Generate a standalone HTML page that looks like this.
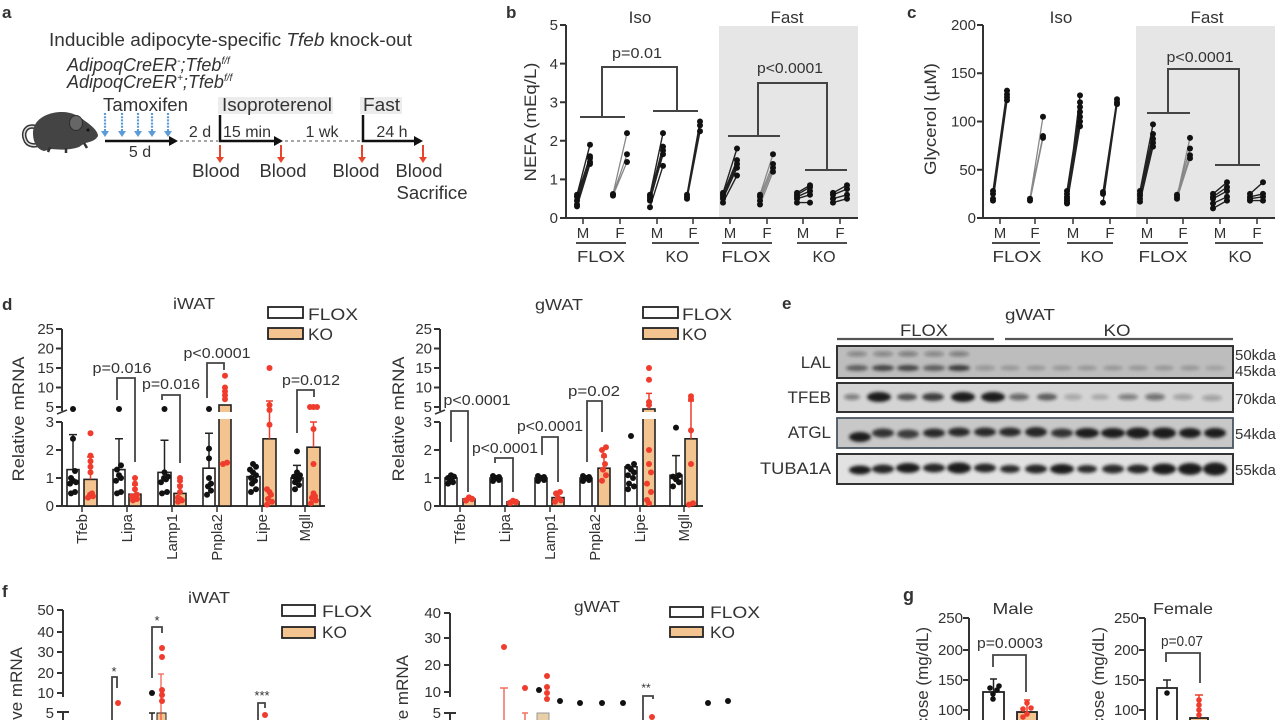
<!DOCTYPE html>
<html><head><meta charset="utf-8"><style>
html,body{margin:0;padding:0;background:#fff;width:1280px;height:720px;overflow:hidden;}
svg{display:block;}
text{font-family:"Liberation Sans",Arial,sans-serif;fill:#333;}
</style></head><body>
<svg width="1280" height="720" viewBox="0 0 1280 720" xmlns="http://www.w3.org/2000/svg" overflow="hidden">
<defs>
<filter id="bl" x="-50%" y="-100%" width="200%" height="300%"><feGaussianBlur stdDeviation="1.6"/></filter>
</defs>

<!-- ================= PANEL A ================= -->
<text x="2" y="18" font-size="17" font-weight="bold">a</text>
<text x="49" y="46" font-size="18" textLength="363" lengthAdjust="spacingAndGlyphs">Inducible adipocyte-specific <tspan font-style="italic">Tfeb</tspan> knock-out</text>
<text x="67" y="71" font-size="18" font-style="italic">AdipoqCreER<tspan font-size="10" dy="-7">-</tspan><tspan dy="7">;Tfeb</tspan><tspan font-size="10" dy="-7">f/f</tspan></text>
<text x="67" y="88" font-size="18" font-style="italic">AdipoqCreER<tspan font-size="10" dy="-7">+</tspan><tspan dy="7">;Tfeb</tspan><tspan font-size="10" dy="-7">f/f</tspan></text>

<rect x="218" y="97" width="115" height="17" fill="#ececec"/>
<rect x="360" y="97" width="42" height="17" fill="#ececec"/>
<text x="103" y="111" font-size="18" textLength="85" lengthAdjust="spacingAndGlyphs">Tamoxifen</text>
<text x="222" y="111" font-size="18" textLength="110" lengthAdjust="spacingAndGlyphs">Isoproterenol</text>
<text x="363" y="111" font-size="18" textLength="37" lengthAdjust="spacingAndGlyphs">Fast</text>

<!-- mouse -->
<g>
<path d="M38,128 C27,123 22,132 25,139 C27,146 35,147 43,143" stroke="#333" stroke-width="4.5" fill="none"/>
<path d="M38,128 C27,123 22,132 25,139 C27,146 35,147 43,143" stroke="#ddd" stroke-width="1.5" fill="none"/>
<path d="M33,133 C33,119 48,112 62,112 C72,112 79,116 85,121 C91,125 98,131 98,136 C96,140 91,142 85,143 L79,147 C71,150 60,150 52,149 L44,151 C36,149 33,141 33,133 Z" fill="#444"/>
<ellipse cx="76" cy="123" rx="6.5" ry="7.5" fill="#666" stroke="#2e2e2e" stroke-width="1"/>
<circle cx="88" cy="130" r="1.5" fill="#111"/>
<path d="M50,147 L48,152 M66,148 L66,153 M84,143 L87,148" stroke="#333" stroke-width="2.5"/>
</g>

<!-- blue arrows -->
<g stroke="#5a9bd8" stroke-width="2.2" stroke-dasharray="2,1.2" fill="none">
<path d="M105,113V132 M122,113V132 M138,113V132 M152,113V132 M168,113V132"/>
</g>
<g fill="#5a9bd8">
<polygon points="101,131 109,131 105,137"/>
<polygon points="118,131 126,131 122,137"/>
<polygon points="134,131 142,131 138,137"/>
<polygon points="148,131 156,131 152,137"/>
<polygon points="164,131 172,131 168,137"/>
</g>

<!-- timeline -->
<g stroke="#111" stroke-width="2.5" fill="none">
<path d="M105,141H172"/>
<path d="M220,115V141H277"/>
<path d="M363,115V141H417"/>
</g>
<g fill="#111">
<polygon points="169,136 178,141 169,146"/>
<polygon points="274,136 283,141 274,146"/>
<polygon points="414,136 423,141 414,146"/>
</g>
<g stroke="#999" stroke-width="1.8" stroke-dasharray="3,3">
<path d="M180,141H218"/>
<path d="M285,141H361"/>
</g>
<text x="200" y="137" font-size="16" text-anchor="middle">2 d</text>
<text x="247" y="137" font-size="16" text-anchor="middle">15 min</text>
<text x="322" y="137" font-size="16" text-anchor="middle">1 wk</text>
<text x="392" y="137" font-size="16" text-anchor="middle">24 h</text>
<text x="140" y="157" font-size="16" text-anchor="middle">5 d</text>

<!-- red arrows -->
<g stroke="#e8452e" stroke-width="2">
<path d="M220,145V158 M281,145V158 M362,145V158 M423,145V158"/>
</g>
<g fill="#e8452e">
<polygon points="216,157 224,157 220,163"/>
<polygon points="277,157 285,157 281,163"/>
<polygon points="358,157 366,157 362,163"/>
<polygon points="419,157 427,157 423,163"/>
</g>
<text x="216" y="177" font-size="18" text-anchor="middle" textLength="48" lengthAdjust="spacingAndGlyphs">Blood</text>
<text x="283" y="177" font-size="18" text-anchor="middle" textLength="47" lengthAdjust="spacingAndGlyphs">Blood</text>
<text x="356" y="177" font-size="18" text-anchor="middle" textLength="47" lengthAdjust="spacingAndGlyphs">Blood</text>
<text x="419" y="177" font-size="18" text-anchor="middle" textLength="47" lengthAdjust="spacingAndGlyphs">Blood</text>
<text x="432" y="199" font-size="18" text-anchor="middle" textLength="71" lengthAdjust="spacingAndGlyphs">Sacrifice</text>

<!-- ================= PANEL B ================= -->
<text x="506" y="18" font-size="17" font-weight="bold">b</text>
<rect x="719" y="26" width="139" height="192" fill="#e6e6e6"/>
<text x="640" y="23" font-size="17" text-anchor="middle">Iso</text>
<text x="787" y="23" font-size="17" text-anchor="middle">Fast</text>
<text transform="translate(536,122) rotate(-90)" font-size="17" text-anchor="middle" textLength="119" lengthAdjust="spacingAndGlyphs">NEFA (mEq/L)</text>
<path d="M566,25V218H858" stroke="#333" stroke-width="2" fill="none"/>
<path d="M560,25H566M560,63.6H566M560,102.2H566M560,140.8H566M560,179.4H566M560,218H566" stroke="#333" stroke-width="2"/>
<g font-size="15" text-anchor="end">
<text x="558" y="30">5</text><text x="558" y="69">4</text><text x="558" y="107.5">3</text>
<text x="558" y="146">2</text><text x="558" y="184.5">1</text><text x="558" y="223">0</text>
</g>
<path d="M583,218V224M620,218V224M657,218V224M693,218V224M730,218V224M767,218V224M803,218V224M840,218V224" stroke="#333" stroke-width="1.5"/>
<g font-size="15" text-anchor="middle">
<text x="583" y="238">M</text><text x="620" y="238">F</text><text x="657" y="238">M</text><text x="693" y="238">F</text>
<text x="730" y="238">M</text><text x="767" y="238">F</text><text x="803" y="238">M</text><text x="840" y="238">F</text>
</g>
<path d="M576,243H626M652,243H699M722,243H772M797,243H847" stroke="#333" stroke-width="1.8"/>
<g font-size="16" text-anchor="middle">
<text x="601" y="262" textLength="48" lengthAdjust="spacingAndGlyphs">FLOX</text>
<text x="677" y="262">KO</text>
<text x="746" y="262" textLength="49" lengthAdjust="spacingAndGlyphs">FLOX</text>
<text x="824" y="262">KO</text>
</g>
<path d="M580,117H625 M602,117V67H677V111 M653,111H698" stroke="#444" stroke-width="2" fill="none"/>
<text x="637" y="58" font-size="15" text-anchor="middle" textLength="50" lengthAdjust="spacingAndGlyphs">p=0.01</text>
<path d="M728,136H780 M758,136V83H827V170 M805,170H847" stroke="#444" stroke-width="2" fill="none"/>
<text x="790" y="73" font-size="15" text-anchor="middle" textLength="66" lengthAdjust="spacingAndGlyphs">p&lt;0.0001</text>

<g stroke="#222" stroke-width="1.4" fill="none">
<path d="M577,206.4L590,164M577,204.5L590,162M577,200.6L590,158.2M577,196.8L590,156.2M577,194.8L590,144.7"/>
<path d="M650,207.2L663,165.9M650,200.6L663,154.3M650,198.7L663,150.5M650,196.8L663,146.6M650,194.8L663,133.1"/>
<path d="M687,198.7L700,131.2M687,196.8L700,125.4M687,194.8L700,121.5"/>
<path d="M723,202.6L737,175.5M723,198.7L737,167.8M723,196.8L737,164M723,194.8L737,160.1M723,192.9L737,148.5"/>
<path d="M797,202.6L810,202.6M797,198.7L810,194.8M797,196.8L810,191M797,194.8L810,187.1M797,192.9L810,185.2"/>
<path d="M833,202.6L847,198.7M833,198.7L847,194.8M833,194.8L847,189M833,192.9L847,185.2"/>
</g>
<g stroke="#888" stroke-width="1.3" fill="none">
<path d="M613,195.6L627,162M613,194.8L627,154.3M613,194L627,133.1"/>
<path d="M760,204.5L773,171.7M760,200.6L773,167.8M760,196.8L773,164M760,194.8L773,154.3"/>
</g>
<g fill="#111">
<circle cx="577" cy="206.4" r="3"/><circle cx="577" cy="204.5" r="3"/><circle cx="577" cy="200.6" r="3"/><circle cx="577" cy="196.8" r="3"/><circle cx="577" cy="194.8" r="3"/>
<circle cx="590" cy="164" r="3"/><circle cx="590" cy="162" r="3"/><circle cx="590" cy="158.2" r="3"/><circle cx="590" cy="156.2" r="3"/><circle cx="590" cy="144.7" r="3"/>
<circle cx="613" cy="195.6" r="3"/><circle cx="613" cy="194.8" r="3"/><circle cx="613" cy="194" r="3"/>
<circle cx="627" cy="162" r="3"/><circle cx="627" cy="154.3" r="3"/><circle cx="627" cy="133.1" r="3"/>
<circle cx="650" cy="207.2" r="3"/><circle cx="650" cy="200.6" r="3"/><circle cx="650" cy="198.7" r="3"/><circle cx="650" cy="196.8" r="3"/><circle cx="650" cy="194.8" r="3"/>
<circle cx="663" cy="165.9" r="3"/><circle cx="663" cy="154.3" r="3"/><circle cx="663" cy="150.5" r="3"/><circle cx="663" cy="146.6" r="3"/><circle cx="663" cy="133.1" r="3"/>
<circle cx="687" cy="198.7" r="3"/><circle cx="687" cy="196.8" r="3"/><circle cx="687" cy="194.8" r="3"/>
<circle cx="700" cy="131.2" r="3"/><circle cx="700" cy="125.4" r="3"/><circle cx="700" cy="121.5" r="3"/>
<circle cx="723" cy="202.6" r="3"/><circle cx="723" cy="198.7" r="3"/><circle cx="723" cy="196.8" r="3"/><circle cx="723" cy="194.8" r="3"/><circle cx="723" cy="192.9" r="3"/>
<circle cx="737" cy="175.5" r="3"/><circle cx="737" cy="167.8" r="3"/><circle cx="737" cy="164" r="3"/><circle cx="737" cy="160.1" r="3"/><circle cx="737" cy="148.5" r="3"/>
<circle cx="760" cy="204.5" r="3"/><circle cx="760" cy="200.6" r="3"/><circle cx="760" cy="196.8" r="3"/><circle cx="760" cy="194.8" r="3"/>
<circle cx="773" cy="171.7" r="3"/><circle cx="773" cy="167.8" r="3"/><circle cx="773" cy="164" r="3"/><circle cx="773" cy="154.3" r="3"/>
<circle cx="797" cy="202.6" r="3"/><circle cx="797" cy="198.7" r="3"/><circle cx="797" cy="196.8" r="3"/><circle cx="797" cy="194.8" r="3"/><circle cx="797" cy="192.9" r="3"/>
<circle cx="810" cy="202.6" r="3"/><circle cx="810" cy="194.8" r="3"/><circle cx="810" cy="191" r="3"/><circle cx="810" cy="187.1" r="3"/><circle cx="810" cy="185.2" r="3"/>
<circle cx="833" cy="202.6" r="3"/><circle cx="833" cy="198.7" r="3"/><circle cx="833" cy="194.8" r="3"/><circle cx="833" cy="192.9" r="3"/>
<circle cx="847" cy="198.7" r="3"/><circle cx="847" cy="194.8" r="3"/><circle cx="847" cy="189" r="3"/><circle cx="847" cy="185.2" r="3"/>
</g>

<!-- ================= PANEL C ================= -->
<text x="907" y="18" font-size="17" font-weight="bold">c</text>
<rect x="1136" y="26" width="139" height="192" fill="#e6e6e6"/>
<text x="1061" y="23" font-size="17" text-anchor="middle">Iso</text>
<text x="1207" y="23" font-size="17" text-anchor="middle">Fast</text>
<text transform="translate(936,119) rotate(-90)" font-size="17" text-anchor="middle" textLength="112" lengthAdjust="spacingAndGlyphs">Glycerol (µM)</text>
<path d="M983,25V218H1275" stroke="#333" stroke-width="2" fill="none"/>
<path d="M977,25H983M977,73.3H983M977,121.5H983M977,169.8H983M977,218H983" stroke="#333" stroke-width="2"/>
<g font-size="15" text-anchor="end">
<text x="976" y="30">200</text><text x="976" y="78">150</text><text x="976" y="126.5">100</text>
<text x="976" y="175">50</text><text x="976" y="223">0</text>
</g>
<path d="M1000,218V224M1035,218V224M1073,218V224M1110,218V224M1147,218V224M1183,218V224M1220,218V224M1257,218V224" stroke="#333" stroke-width="1.5"/>
<g font-size="15" text-anchor="middle">
<text x="1000" y="238">M</text><text x="1035" y="238">F</text><text x="1073" y="238">M</text><text x="1110" y="238">F</text>
<text x="1147" y="238">M</text><text x="1183" y="238">F</text><text x="1220" y="238">M</text><text x="1257" y="238">F</text>
</g>
<path d="M992,243H1040M1067,243H1113M1140,243H1188M1215,243H1263" stroke="#333" stroke-width="1.8"/>
<g font-size="16" text-anchor="middle">
<text x="1017" y="262" textLength="49" lengthAdjust="spacingAndGlyphs">FLOX</text>
<text x="1092" y="262">KO</text>
<text x="1163" y="262" textLength="49" lengthAdjust="spacingAndGlyphs">FLOX</text>
<text x="1240" y="262">KO</text>
</g>
<path d="M1147,113H1190 M1168,113V69H1239V165 M1215,165H1260" stroke="#444" stroke-width="2" fill="none"/>
<text x="1200" y="62" font-size="15" text-anchor="middle" textLength="67" lengthAdjust="spacingAndGlyphs">p&lt;0.0001</text>

<g stroke="#222" stroke-width="1.4" fill="none">
<path d="M993,200.6L1007,100.3M993,198.7L1007,97.4M993,193.9L1007,94.5M993,191L1007,90.6"/>
<path d="M1067,203.5L1080,126.3M1067,200.6L1080,121.5M1067,196.8L1080,116.7M1067,193.9L1080,111.9M1067,191L1080,107M1067,198.7L1080,102.2M1067,202.6L1080,95.4"/>
<path d="M1103,202.6L1117,104.1M1103,193.9L1117,102.2M1103,192L1117,99.3"/>
<path d="M1140,201.6L1153,146.6M1140,198.7L1153,142.7M1140,195.8L1153,138.9M1140,193.9L1153,134M1140,191L1153,124.4"/>
<path d="M1213,208.4L1227,200.6M1213,203.5L1227,196.8M1213,198.7L1227,191M1213,196.8L1227,187.1M1213,193.9L1227,182.3"/>
<path d="M1250,200.6L1263,200.6M1250,198.7L1263,196.8M1250,196.8L1263,193.9M1250,193.9L1263,182.3"/>
</g>
<g stroke="#888" stroke-width="1.3" fill="none">
<path d="M1030,200.6L1043,137.9M1030,198.7L1043,136M1030,198.7L1043,116.7"/>
<path d="M1177,198.7L1190,158.2M1177,196.8L1190,155.3M1177,194.8L1190,148.5M1177,196.8L1190,137.9"/>
</g>
<g fill="#111">
<circle cx="993" cy="200.6" r="3"/><circle cx="993" cy="198.7" r="3"/><circle cx="993" cy="193.9" r="3"/><circle cx="993" cy="191" r="3"/>
<circle cx="1007" cy="100.3" r="3"/><circle cx="1007" cy="97.4" r="3"/><circle cx="1007" cy="94.5" r="3"/><circle cx="1007" cy="90.6" r="3"/>
<circle cx="1030" cy="200.6" r="3"/><circle cx="1030" cy="198.7" r="3"/>
<circle cx="1043" cy="137.9" r="3"/><circle cx="1043" cy="136" r="3"/><circle cx="1043" cy="116.7" r="3"/>
<circle cx="1067" cy="203.5" r="3"/><circle cx="1067" cy="200.6" r="3"/><circle cx="1067" cy="196.8" r="3"/><circle cx="1067" cy="193.9" r="3"/><circle cx="1067" cy="191" r="3"/><circle cx="1067" cy="198.7" r="3"/><circle cx="1067" cy="202.6" r="3"/>
<circle cx="1080" cy="126.3" r="3"/><circle cx="1080" cy="121.5" r="3"/><circle cx="1080" cy="116.7" r="3"/><circle cx="1080" cy="111.9" r="3"/><circle cx="1080" cy="107" r="3"/><circle cx="1080" cy="102.2" r="3"/><circle cx="1080" cy="95.4" r="3"/>
<circle cx="1103" cy="202.6" r="3"/><circle cx="1103" cy="193.9" r="3"/><circle cx="1103" cy="192" r="3"/>
<circle cx="1117" cy="104.1" r="3"/><circle cx="1117" cy="102.2" r="3"/><circle cx="1117" cy="99.3" r="3"/>
<circle cx="1140" cy="201.6" r="3"/><circle cx="1140" cy="198.7" r="3"/><circle cx="1140" cy="195.8" r="3"/><circle cx="1140" cy="193.9" r="3"/><circle cx="1140" cy="191" r="3"/>
<circle cx="1153" cy="146.6" r="3"/><circle cx="1153" cy="142.7" r="3"/><circle cx="1153" cy="138.9" r="3"/><circle cx="1153" cy="134" r="3"/><circle cx="1153" cy="124.4" r="3"/>
<circle cx="1177" cy="198.7" r="3"/><circle cx="1177" cy="196.8" r="3"/><circle cx="1177" cy="194.8" r="3"/>
<circle cx="1190" cy="158.2" r="3"/><circle cx="1190" cy="155.3" r="3"/><circle cx="1190" cy="148.5" r="3"/><circle cx="1190" cy="137.9" r="3"/>
<circle cx="1213" cy="208.4" r="3"/><circle cx="1213" cy="203.5" r="3"/><circle cx="1213" cy="198.7" r="3"/><circle cx="1213" cy="196.8" r="3"/><circle cx="1213" cy="193.9" r="3"/>
<circle cx="1227" cy="200.6" r="3"/><circle cx="1227" cy="196.8" r="3"/><circle cx="1227" cy="191" r="3"/><circle cx="1227" cy="187.1" r="3"/><circle cx="1227" cy="182.3" r="3"/>
<circle cx="1250" cy="200.6" r="3"/><circle cx="1250" cy="198.7" r="3"/><circle cx="1250" cy="196.8" r="3"/><circle cx="1250" cy="193.9" r="3"/>
<circle cx="1263" cy="200.6" r="3"/><circle cx="1263" cy="196.8" r="3"/><circle cx="1263" cy="193.9" r="3"/><circle cx="1263" cy="182.3" r="3"/>
</g>

<!-- ================= PANEL D (iWAT) ================= -->
<text x="2" y="310" font-size="17" font-weight="bold">d</text>
<text x="194" y="309" font-size="16" text-anchor="middle" textLength="42" lengthAdjust="spacingAndGlyphs">iWAT</text>
<rect x="268" y="307" width="35" height="11" fill="#fff" stroke="#222" stroke-width="1.8"/>
<text x="308" y="320" font-size="17" textLength="50" lengthAdjust="spacingAndGlyphs">FLOX</text>
<rect x="268" y="328" width="35" height="11" fill="#f3c48f" stroke="#222" stroke-width="1.8"/>
<text x="308" y="340" font-size="17" textLength="25" lengthAdjust="spacingAndGlyphs">KO</text>
<text transform="translate(24,419) rotate(-90)" font-size="17" text-anchor="middle" textLength="125" lengthAdjust="spacingAndGlyphs">Relative mRNA</text>
<path d="M62,329V411 M62,422V506H325" stroke="#333" stroke-width="2" fill="none"/>
<path d="M57,414L67,410" stroke="#333" stroke-width="1.5"/>
<path d="M56,329H62M56,348.5H62M56,368H62M56,387.5H62M56,407H62M56,422H62M56,450H62M56,478H62M56,506H62" stroke="#333" stroke-width="2"/>
<g font-size="15" text-anchor="end">
<text x="54" y="334">25</text><text x="54" y="353.5">20</text><text x="54" y="373">15</text><text x="54" y="392.5">10</text>
<text x="54" y="412">5</text><text x="54" y="427">3</text><text x="54" y="455">2</text><text x="54" y="483">1</text><text x="54" y="511">0</text>
</g>
<path d="M82,506V512M127,506V512M172,506V512M217,506V512M262,506V512M305,506V512" stroke="#333" stroke-width="1.5"/>
<g font-size="15" text-anchor="end">
<text transform="translate(87,514) rotate(-90)">Tfeb</text>
<text transform="translate(132,514) rotate(-90)">Lipa</text>
<text transform="translate(177,514) rotate(-90)">Lamp1</text>
<text transform="translate(222,514) rotate(-90)">Pnpla2</text>
<text transform="translate(267,514) rotate(-90)">Lipe</text>
<text transform="translate(310,514) rotate(-90)">Mgll</text>
</g>
<g stroke="#222" stroke-width="1.6">
<rect x="67" y="469.6" width="12" height="36.4" fill="#fff"/>
<rect x="84" y="479.4" width="13" height="26.6" fill="#f3c48f"/>
<rect x="113" y="469.6" width="12" height="36.4" fill="#fff"/>
<rect x="129" y="494.2" width="12" height="11.8" fill="#f3c48f"/>
<rect x="158" y="472.4" width="13" height="33.6" fill="#fff"/>
<rect x="174" y="493.4" width="12" height="12.6" fill="#f3c48f"/>
<rect x="203" y="468.2" width="12" height="37.8" fill="#fff"/>
<rect x="219" y="405" width="12" height="101" fill="#f3c48f"/>
<rect x="247" y="476.6" width="13" height="29.4" fill="#fff"/>
<rect x="263" y="438.8" width="13" height="67.2" fill="#f3c48f"/>
<rect x="291" y="478" width="12" height="28" fill="#fff"/>
<rect x="307" y="447.2" width="13" height="58.8" fill="#f3c48f"/>
</g>
<rect x="217" y="412" width="16" height="7" fill="#fff"/>
<path d="M73,469.6V434.6M69,434.6H77 M119,469.6V438.8M115,438.8H123 M164.5,472.4V440.2M160.5,440.2H168.5 M209,468.2V433.2M205,433.2H213 M297,478V465.4M293,465.4H301" stroke="#222" stroke-width="1.5" fill="none"/>
<path d="M90.5,479.4V457M87,457H94 M135,494.2V485M132,485H138 M180,493.4V485M177,485H183 M269.5,438.8V401M266,401H273 M313.5,447.2V422M310,422H317" stroke="#f03c2c" stroke-width="1.5" fill="none"/>
<g fill="#111">
<circle cx="71" cy="493.4" r="3"/><circle cx="75" cy="492" r="3"/><circle cx="70" cy="483.6" r="3"/><circle cx="76" cy="482.2" r="3"/><circle cx="73" cy="480.8" r="3"/><circle cx="71" cy="478" r="3"/><circle cx="75" cy="471" r="3"/><circle cx="73" cy="438.8" r="3"/><circle cx="73" cy="409" r="3"/>
<circle cx="117" cy="493.4" r="3"/><circle cx="121" cy="492" r="3"/><circle cx="116" cy="480.8" r="3"/><circle cx="121" cy="478" r="3"/><circle cx="119" cy="475.2" r="3"/><circle cx="117" cy="469.6" r="3"/><circle cx="121" cy="465.4" r="3"/><circle cx="119" cy="409" r="3"/>
<circle cx="162" cy="493.4" r="3"/><circle cx="167" cy="492" r="3"/><circle cx="161" cy="482.2" r="3"/><circle cx="166" cy="479.4" r="3"/><circle cx="164" cy="478" r="3"/><circle cx="168" cy="476.6" r="3"/><circle cx="164.5" cy="472.4" r="3"/><circle cx="164.5" cy="409" r="3"/>
<circle cx="207" cy="494.8" r="3"/><circle cx="211" cy="490.6" r="3"/><circle cx="208" cy="486.4" r="3"/><circle cx="211" cy="483.6" r="3"/><circle cx="209" cy="478" r="3"/><circle cx="209" cy="458.4" r="3"/><circle cx="209" cy="448.6" r="3"/><circle cx="209" cy="409" r="3"/>
<circle cx="251" cy="492" r="3"/><circle cx="256" cy="489.2" r="3"/><circle cx="252" cy="483.6" r="3"/><circle cx="255" cy="480.8" r="3"/><circle cx="251" cy="478" r="3"/><circle cx="256" cy="475.2" r="3"/><circle cx="253" cy="472.4" r="3"/><circle cx="250" cy="469.6" r="3"/><circle cx="256" cy="466.8" r="3"/><circle cx="253" cy="464" r="3"/>
<circle cx="295" cy="489.2" r="3"/><circle cx="299" cy="485" r="3"/><circle cx="295" cy="482.2" r="3"/><circle cx="299" cy="479.4" r="3"/><circle cx="297" cy="478" r="3"/><circle cx="294" cy="476.6" r="3"/><circle cx="300" cy="475.2" r="3"/><circle cx="297" cy="472.4" r="3"/><circle cx="297" cy="451.4" r="3"/>
</g>
<g fill="#f03c2c">
<circle cx="88" cy="497.6" r="3"/><circle cx="93" cy="496.2" r="3"/><circle cx="90" cy="494.8" r="3"/><circle cx="92" cy="493.4" r="3"/><circle cx="90.5" cy="472.4" r="3"/><circle cx="90.5" cy="466.8" r="3"/><circle cx="90.5" cy="461.2" r="3"/><circle cx="90.5" cy="455.6" r="3"/><circle cx="90.5" cy="433.2" r="3"/>
<circle cx="133" cy="500.4" r="3"/><circle cx="137" cy="499" r="3"/><circle cx="135" cy="497.6" r="3"/><circle cx="132" cy="496.2" r="3"/><circle cx="137" cy="494.8" r="3"/><circle cx="135" cy="489.2" r="3"/><circle cx="135" cy="483.6" r="3"/><circle cx="135" cy="478" r="3"/>
<circle cx="178" cy="501.8" r="3"/><circle cx="182" cy="500.4" r="3"/><circle cx="180" cy="499" r="3"/><circle cx="178" cy="497.6" r="3"/><circle cx="180" cy="492" r="3"/><circle cx="180" cy="486.4" r="3"/><circle cx="180" cy="480.8" r="3"/><circle cx="180" cy="478" r="3"/>
<circle cx="223" cy="464" r="3"/><circle cx="227" cy="462.6" r="3"/><circle cx="225" cy="399.2" r="3"/><circle cx="225" cy="395.3" r="3"/><circle cx="225" cy="391.4" r="3"/><circle cx="225" cy="387.5" r="3"/><circle cx="225" cy="375.8" r="3"/>
<circle cx="267" cy="504.6" r="3"/><circle cx="272" cy="501.8" r="3"/><circle cx="268" cy="499" r="3"/><circle cx="271" cy="494.8" r="3"/><circle cx="269.5" cy="492" r="3"/><circle cx="267" cy="489.2" r="3"/><circle cx="269.5" cy="424.8" r="3"/><circle cx="269.5" cy="410" r="3"/><circle cx="269.5" cy="405" r="3"/><circle cx="269.5" cy="368" r="3"/>
<circle cx="311" cy="503.2" r="3"/><circle cx="316" cy="500.4" r="3"/><circle cx="312" cy="497.6" r="3"/><circle cx="315" cy="496.2" r="3"/><circle cx="313.5" cy="493.4" r="3"/><circle cx="313.5" cy="464" r="3"/><circle cx="313.5" cy="429" r="3"/><circle cx="310" cy="407" r="3"/><circle cx="313.5" cy="407" r="3"/><circle cx="317" cy="407" r="3"/>
</g>
<path d="M117,400V378H135V462 M162,400V395H180V463 M207,398V363H224V370 M297,433V390H314V397" stroke="#444" stroke-width="1.8" fill="none"/>
<g font-size="15" text-anchor="middle">
<text x="122" y="373" textLength="59" lengthAdjust="spacingAndGlyphs">p=0.016</text>
<text x="171" y="389" textLength="58" lengthAdjust="spacingAndGlyphs">p=0.016</text>
<text x="217" y="358" textLength="67" lengthAdjust="spacingAndGlyphs">p&lt;0.0001</text>
<text x="311" y="385" textLength="58" lengthAdjust="spacingAndGlyphs">p=0.012</text>
</g>

<!-- ================= PANEL D (gWAT) ================= -->
<text x="559" y="310" font-size="16" text-anchor="middle" textLength="48" lengthAdjust="spacingAndGlyphs">gWAT</text>
<rect x="643" y="307" width="35" height="11" fill="#fff" stroke="#222" stroke-width="1.8"/>
<text x="682" y="320" font-size="17" textLength="50" lengthAdjust="spacingAndGlyphs">FLOX</text>
<rect x="643" y="328" width="35" height="11" fill="#f3c48f" stroke="#222" stroke-width="1.8"/>
<text x="682" y="340" font-size="17" textLength="25" lengthAdjust="spacingAndGlyphs">KO</text>
<text transform="translate(404,419) rotate(-90)" font-size="17" text-anchor="middle" textLength="125" lengthAdjust="spacingAndGlyphs">Relative mRNA</text>
<path d="M440,329V411 M440,422V506H703" stroke="#333" stroke-width="2" fill="none"/>
<path d="M435,414L445,410" stroke="#333" stroke-width="1.5"/>
<path d="M434,329H440M434,348.5H440M434,368H440M434,387.5H440M434,407H440M434,422H440M434,450H440M434,478H440M434,506H440" stroke="#333" stroke-width="2"/>
<g font-size="15" text-anchor="end">
<text x="432" y="334">25</text><text x="432" y="353.5">20</text><text x="432" y="373">15</text><text x="432" y="392.5">10</text>
<text x="432" y="412">5</text><text x="432" y="427">3</text><text x="432" y="455">2</text><text x="432" y="483">1</text><text x="432" y="511">0</text>
</g>
<path d="M460,506V512M505,506V512M550,506V512M595,506V512M640,506V512M684,506V512" stroke="#333" stroke-width="1.5"/>
<g font-size="15" text-anchor="end">
<text transform="translate(465,514) rotate(-90)">Tfeb</text>
<text transform="translate(510,514) rotate(-90)">Lipa</text>
<text transform="translate(555,514) rotate(-90)">Lamp1</text>
<text transform="translate(600,514) rotate(-90)">Pnpla2</text>
<text transform="translate(645,514) rotate(-90)">Lipe</text>
<text transform="translate(689,514) rotate(-90)">Mgll</text>
</g>
<g stroke="#222" stroke-width="1.6">
<rect x="445" y="478" width="12" height="28" fill="#fff"/>
<rect x="463" y="499" width="12" height="7" fill="#f3c48f"/>
<rect x="490" y="478" width="12" height="28" fill="#fff"/>
<rect x="507" y="501.8" width="12" height="4.2" fill="#f3c48f"/>
<rect x="535" y="478" width="12" height="28" fill="#fff"/>
<rect x="552" y="497.6" width="12" height="8.4" fill="#f3c48f"/>
<rect x="580" y="478" width="12" height="28" fill="#fff"/>
<rect x="598" y="468.2" width="12" height="37.8" fill="#f3c48f"/>
<rect x="625" y="466.8" width="12" height="39.2" fill="#fff"/>
<rect x="643" y="409" width="12" height="97" fill="#f3c48f"/>
<rect x="670" y="475.2" width="12" height="30.8" fill="#fff"/>
<rect x="685" y="438.8" width="12" height="67.2" fill="#f3c48f"/>
</g>
<rect x="641" y="412" width="16" height="7" fill="#fff"/>
<path d="M676,475.2V455.6M672,455.6H680" stroke="#222" stroke-width="1.5" fill="none"/>
<path d="M604,468.2V457M601,457H607 M649,409V393.4M646,393.4H652 M691,438.8V401M688,401H694" stroke="#f03c2c" stroke-width="1.5" fill="none"/>
<g fill="#111">
<circle cx="448" cy="483.6" r="3"/><circle cx="453" cy="482.2" r="3"/><circle cx="451" cy="480.8" r="3"/><circle cx="448" cy="478" r="3"/><circle cx="454" cy="476.6" r="3"/><circle cx="451" cy="475.2" r="3"/>
<circle cx="493" cy="481" r="3"/><circle cx="499" cy="480" r="3"/><circle cx="496" cy="478" r="3"/><circle cx="493" cy="476" r="3"/><circle cx="499" cy="477" r="3"/>
<circle cx="538" cy="481" r="3"/><circle cx="544" cy="480" r="3"/><circle cx="541" cy="478" r="3"/><circle cx="538" cy="476" r="3"/><circle cx="544" cy="477" r="3"/>
<circle cx="583" cy="481" r="3"/><circle cx="589" cy="480" r="3"/><circle cx="586" cy="478" r="3"/><circle cx="583" cy="476" r="3"/><circle cx="589" cy="477" r="3"/>
<circle cx="628" cy="489.2" r="3"/><circle cx="634" cy="486.4" r="3"/><circle cx="629" cy="483.6" r="3"/><circle cx="633" cy="478" r="3"/><circle cx="628" cy="475.2" r="3"/><circle cx="634" cy="472.4" r="3"/><circle cx="631" cy="469.6" r="3"/><circle cx="628" cy="466.8" r="3"/><circle cx="634" cy="464" r="3"/><circle cx="631" cy="436" r="3"/>
<circle cx="673" cy="486.4" r="3"/><circle cx="679" cy="482.2" r="3"/><circle cx="676" cy="479.4" r="3"/><circle cx="673" cy="476.6" r="3"/><circle cx="679" cy="475.2" r="3"/><circle cx="676" cy="427.6" r="3"/>
</g>
<g fill="#f03c2c">
<circle cx="466" cy="500.4" r="3.2"/><circle cx="472" cy="499" r="3.2"/><circle cx="469" cy="497.6" r="3.2"/>
<circle cx="510" cy="503" r="3.2"/><circle cx="516" cy="502" r="3.2"/><circle cx="513" cy="501" r="3.2"/>
<circle cx="555" cy="501.8" r="3"/><circle cx="561" cy="500.4" r="3"/><circle cx="558" cy="497.6" r="3"/><circle cx="556" cy="493.4" r="3"/><circle cx="560" cy="492" r="3"/>
<circle cx="602" cy="480.8" r="3"/><circle cx="606" cy="475.2" r="3"/><circle cx="603" cy="469.6" r="3"/><circle cx="605" cy="464" r="3"/><circle cx="604" cy="455.6" r="3"/><circle cx="602" cy="450" r="3"/><circle cx="606" cy="447.2" r="3"/>
<circle cx="649" cy="503.2" r="3"/><circle cx="647" cy="500" r="3"/><circle cx="651" cy="492" r="3"/><circle cx="647" cy="483.6" r="3"/><circle cx="651" cy="472.4" r="3"/><circle cx="649" cy="464" r="3"/><circle cx="649" cy="450" r="3"/><circle cx="649" cy="405" r="3"/><circle cx="649" cy="402" r="3"/><circle cx="649" cy="379.7" r="3"/><circle cx="649" cy="368" r="3"/>
<circle cx="689" cy="504.6" r="3"/><circle cx="693" cy="503.2" r="3"/><circle cx="691" cy="464" r="3"/><circle cx="691" cy="430.4" r="3"/><circle cx="691" cy="399.2" r="3"/><circle cx="691" cy="396.3" r="3"/>
</g>
<path d="M451,442V411H468V492 M495,463V458H513V492 M542,455V437H558V482 M587,462V401H602V432" stroke="#444" stroke-width="1.8" fill="none"/>
<g font-size="15" text-anchor="middle">
<text x="477" y="405" textLength="67" lengthAdjust="spacingAndGlyphs">p&lt;0.0001</text>
<text x="505" y="453" textLength="66" lengthAdjust="spacingAndGlyphs">p&lt;0.0001</text>
<text x="550" y="431" textLength="66" lengthAdjust="spacingAndGlyphs">p&lt;0.0001</text>
<text x="594" y="396" textLength="52" lengthAdjust="spacingAndGlyphs">p=0.02</text>
</g>

<!-- ================= PANEL E ================= -->
<text x="782" y="309" font-size="17" font-weight="bold">e</text>
<text x="1030" y="320" font-size="16" text-anchor="middle" textLength="50" lengthAdjust="spacingAndGlyphs">gWAT</text>
<text x="924" y="336" font-size="17" text-anchor="middle" textLength="48" lengthAdjust="spacingAndGlyphs">FLOX</text>
<text x="1117" y="336" font-size="17" text-anchor="middle" textLength="27" lengthAdjust="spacingAndGlyphs">KO</text>
<path d="M837,339H994M1005,339H1233" stroke="#555" stroke-width="2.2"/>
<g font-size="17" text-anchor="end">
<text x="831" y="368">LAL</text>
<text x="831" y="403">TFEB</text>
<text x="831" y="438">ATGL</text>
<text x="831" y="474" textLength="71" lengthAdjust="spacingAndGlyphs">TUBA1A</text>
</g>
<g font-size="15">
<text x="1235" y="360">50kda</text><text x="1235" y="376">45kda</text>
<text x="1235" y="404">70kda</text><text x="1235" y="439">54kda</text><text x="1235" y="475">55kda</text>
</g>
<rect x="837" y="346" width="396" height="32" fill="#bdbdbd" stroke="#333" stroke-width="2"/>
<rect x="837" y="383" width="396" height="29" fill="#d4d4d4" stroke="#333" stroke-width="2"/>
<rect x="837" y="418" width="396" height="30" fill="#c8c8c8" stroke="#4a5560" stroke-width="1.8"/>
<rect x="837" y="454" width="396" height="30" fill="#e2e2e2" stroke="#333" stroke-width="2"/>
<g filter="url(#bl)" fill="#1a1a1a">
<ellipse cx="857" cy="354" rx="10" ry="2.5" opacity="0.35"/><ellipse cx="883" cy="354" rx="10" ry="2.5" opacity="0.35"/><ellipse cx="908" cy="354" rx="10" ry="2.5" opacity="0.4"/><ellipse cx="934" cy="354" rx="10" ry="2.5" opacity="0.35"/><ellipse cx="959" cy="354" rx="10" ry="2.5" opacity="0.4"/>
<ellipse cx="857" cy="368" rx="11" ry="3" opacity="0.6"/><ellipse cx="883" cy="368" rx="11" ry="3" opacity="0.75"/><ellipse cx="908" cy="368" rx="11" ry="3" opacity="0.75"/><ellipse cx="934" cy="368" rx="11" ry="3" opacity="0.6"/><ellipse cx="959" cy="368" rx="11" ry="3" opacity="0.8"/>
<ellipse cx="985" cy="368" rx="10" ry="2.5" opacity="0.25"/><ellipse cx="1010" cy="368" rx="10" ry="2.5" opacity="0.2"/><ellipse cx="1036" cy="368" rx="10" ry="2.5" opacity="0.2"/><ellipse cx="1062" cy="368" rx="10" ry="2.5" opacity="0.2"/><ellipse cx="1087" cy="368" rx="10" ry="2.5" opacity="0.2"/><ellipse cx="1113" cy="368" rx="10" ry="2.5" opacity="0.2"/><ellipse cx="1138" cy="368" rx="10" ry="2.5" opacity="0.2"/><ellipse cx="1164" cy="368" rx="10" ry="2.5" opacity="0.2"/><ellipse cx="1190" cy="368" rx="10" ry="2.5" opacity="0.2"/><ellipse cx="1215" cy="368" rx="10" ry="2.5" opacity="0.15"/>
<ellipse cx="852" cy="397" rx="8" ry="3" opacity="0.45"/><ellipse cx="879" cy="397" rx="12" ry="5" opacity="1"/><ellipse cx="907" cy="397" rx="10" ry="3.5" opacity="0.7"/><ellipse cx="933" cy="397" rx="11" ry="4" opacity="0.8"/><ellipse cx="963" cy="397" rx="12" ry="5" opacity="1"/><ellipse cx="993" cy="397" rx="12" ry="5" opacity="1"/>
<ellipse cx="1019" cy="397" rx="10" ry="3.5" opacity="0.55"/><ellipse cx="1047" cy="397" rx="10" ry="3.5" opacity="0.65"/><ellipse cx="1073" cy="397" rx="9" ry="3" opacity="0.25"/><ellipse cx="1100" cy="397" rx="9" ry="3" opacity="0.2"/><ellipse cx="1128" cy="397" rx="10" ry="3" opacity="0.45"/><ellipse cx="1155" cy="397" rx="10" ry="3.5" opacity="0.5"/><ellipse cx="1183" cy="397" rx="10" ry="3" opacity="0.28"/><ellipse cx="1212" cy="398" rx="10" ry="3" opacity="0.28"/>
<ellipse cx="860" cy="437" rx="11" ry="5" opacity="1"/><ellipse cx="883" cy="433" rx="11" ry="4.5" opacity="0.85"/><ellipse cx="908" cy="434" rx="11" ry="4.5" opacity="0.8"/><ellipse cx="934" cy="433" rx="11" ry="4.5" opacity="0.9"/><ellipse cx="959" cy="432" rx="11" ry="4.5" opacity="0.9"/><ellipse cx="985" cy="432" rx="11" ry="4.5" opacity="0.9"/><ellipse cx="1010" cy="432" rx="11" ry="4.5" opacity="0.9"/><ellipse cx="1036" cy="432" rx="11" ry="5" opacity="0.95"/><ellipse cx="1062" cy="433" rx="11" ry="4.5" opacity="0.85"/><ellipse cx="1087" cy="433" rx="12" ry="5" opacity="1"/><ellipse cx="1113" cy="433" rx="12" ry="5" opacity="1"/><ellipse cx="1138" cy="433" rx="12" ry="5.5" opacity="1"/><ellipse cx="1164" cy="433" rx="12" ry="5.5" opacity="1"/><ellipse cx="1190" cy="433" rx="11" ry="5" opacity="1"/><ellipse cx="1215" cy="433" rx="11" ry="5" opacity="1"/>
<ellipse cx="860" cy="470" rx="11" ry="4.5" opacity="1"/><ellipse cx="883" cy="469" rx="11" ry="4.5" opacity="0.95"/><ellipse cx="908" cy="468" rx="12" ry="5" opacity="1"/><ellipse cx="934" cy="468" rx="11" ry="4.5" opacity="0.95"/><ellipse cx="959" cy="468" rx="12" ry="5.5" opacity="1"/><ellipse cx="985" cy="468" rx="11" ry="4.5" opacity="0.95"/><ellipse cx="1010" cy="469" rx="10" ry="4" opacity="0.9"/><ellipse cx="1036" cy="469" rx="11" ry="4.5" opacity="0.95"/><ellipse cx="1062" cy="469" rx="12" ry="5" opacity="1"/><ellipse cx="1087" cy="469" rx="10" ry="4" opacity="0.9"/><ellipse cx="1113" cy="469" rx="11" ry="4.5" opacity="0.9"/><ellipse cx="1138" cy="469" rx="11" ry="4.5" opacity="0.95"/><ellipse cx="1164" cy="469" rx="12" ry="5.5" opacity="1"/><ellipse cx="1190" cy="469" rx="12" ry="6" opacity="1"/><ellipse cx="1215" cy="469" rx="12" ry="6.5" opacity="1"/>
</g>

<!-- ================= PANEL F ================= -->
<text x="2" y="597" font-size="17" font-weight="bold">f</text>
<text x="209" y="603" font-size="16" text-anchor="middle" textLength="42" lengthAdjust="spacingAndGlyphs">iWAT</text>
<rect x="282" y="605" width="33" height="11" fill="#fff" stroke="#222" stroke-width="1.8"/>
<text x="322" y="617" font-size="17" textLength="50" lengthAdjust="spacingAndGlyphs">FLOX</text>
<rect x="282" y="627" width="33" height="11" fill="#f3c48f" stroke="#222" stroke-width="1.8"/>
<text x="322" y="638" font-size="17" textLength="25" lengthAdjust="spacingAndGlyphs">KO</text>
<text transform="translate(22,647) rotate(-90)" font-size="17" text-anchor="end">Relative mRNA</text>
<path d="M63,610V697 M63,712V720" stroke="#333" stroke-width="2" fill="none"/>
<path d="M57,610H63M57,632H63M57,652H63M57,673H63M57,693H63M57,712H69" stroke="#333" stroke-width="2"/>
<g font-size="15" text-anchor="end">
<text x="54" y="615">50</text><text x="54" y="637">40</text><text x="54" y="657">30</text><text x="54" y="678">20</text><text x="54" y="698">10</text><text x="54" y="718">5</text>
</g>
<path d="M112,720V677H117V688 M152,678V627H162V633 M258,720V703H265V708" stroke="#444" stroke-width="1.8" fill="none"/>
<text x="114" y="676" font-size="13" text-anchor="middle">*</text>
<text x="157" y="625" font-size="13" text-anchor="middle">*</text>
<text x="262" y="700" font-size="13" text-anchor="middle">***</text>
<rect x="157" y="713" width="9" height="8" fill="#f3c48f" stroke="#222" stroke-width="1"/>
<path d="M152,713V720M149,713H155" stroke="#222" stroke-width="1.5"/>
<path d="M161,674V720M158,674H164" stroke="#f03c2c" stroke-width="1.3" opacity="0.8"/>
<circle cx="152" cy="693" r="3" fill="#111"/>
<g fill="#f03c2c">
<circle cx="118" cy="703" r="3"/>
<circle cx="162" cy="648" r="3"/><circle cx="162" cy="657" r="3"/><circle cx="162" cy="690" r="3"/><circle cx="162" cy="695" r="3"/><circle cx="162" cy="701" r="3"/>
<circle cx="265" cy="715" r="3"/>
</g>

<text x="597" y="612" font-size="16" text-anchor="middle" textLength="46" lengthAdjust="spacingAndGlyphs">gWAT</text>
<rect x="670" y="607" width="33" height="10" fill="#fff" stroke="#222" stroke-width="1.8"/>
<text x="710" y="618" font-size="17" textLength="50" lengthAdjust="spacingAndGlyphs">FLOX</text>
<rect x="670" y="627" width="33" height="10" fill="#f3c48f" stroke="#222" stroke-width="1.8"/>
<text x="710" y="638" font-size="17" textLength="25" lengthAdjust="spacingAndGlyphs">KO</text>
<text transform="translate(408,655) rotate(-90)" font-size="17" text-anchor="end">Relative mRNA</text>
<path d="M450,613V697 M450,713V720" stroke="#333" stroke-width="2" fill="none"/>
<path d="M444,613H450M444,638H450M444,665H450M444,692H450M444,713H456" stroke="#333" stroke-width="2"/>
<g font-size="15" text-anchor="end">
<text x="441" y="618">40</text><text x="441" y="643">30</text><text x="441" y="670">20</text><text x="441" y="697">10</text><text x="441" y="718">5</text>
</g>
<rect x="537" y="713" width="12" height="8" fill="#e8cfa8" stroke="#999" stroke-width="1"/>
<path d="M504,688V720M500,688H508 M525,713V720M522,713H528" stroke="#f07060" stroke-width="1.5"/>
<path d="M643,720V696H653V699" stroke="#444" stroke-width="1.8" fill="none"/>
<text x="646" y="692" font-size="12" text-anchor="middle">**</text>
<g fill="#111">
<circle cx="539" cy="690" r="3"/><circle cx="560" cy="701" r="3"/><circle cx="580" cy="703" r="3"/><circle cx="602" cy="703" r="3"/><circle cx="623" cy="703" r="3"/><circle cx="708" cy="703" r="3"/><circle cx="728" cy="701" r="3"/>
</g>
<g fill="#f03c2c">
<circle cx="504" cy="647" r="3"/><circle cx="525" cy="688" r="3"/>
<circle cx="547" cy="676" r="3"/><circle cx="547" cy="687" r="3"/><circle cx="547" cy="693" r="3"/><circle cx="547" cy="699" r="3"/>
<circle cx="652" cy="717" r="3"/>
</g>

<!-- ================= PANEL G ================= -->
<text x="903" y="601" font-size="18" font-weight="bold">g</text>
<text x="1013" y="614" font-size="16" text-anchor="middle" textLength="41" lengthAdjust="spacingAndGlyphs">Male</text>
<text x="1183" y="614" font-size="16" text-anchor="middle" textLength="60" lengthAdjust="spacingAndGlyphs">Female</text>
<text transform="translate(928,627) rotate(-90)" font-size="17" text-anchor="end">Glucose (mg/dL)</text>
<text transform="translate(1104,627) rotate(-90)" font-size="17" text-anchor="end">Glucose (mg/dL)</text>
<path d="M969,618V720 M1145,618V720" stroke="#333" stroke-width="2" fill="none"/>
<path d="M963,618H969M963,650H969M963,680H969M963,710H969 M1139,618H1145M1139,650H1145M1139,680H1145M1139,710H1145" stroke="#333" stroke-width="2"/>
<g font-size="15" text-anchor="end">
<text x="963" y="623">250</text><text x="963" y="655">200</text><text x="963" y="685">150</text><text x="963" y="715">100</text>
<text x="1139" y="623">250</text><text x="1139" y="655">200</text><text x="1139" y="685">150</text><text x="1139" y="715">100</text>
</g>
<rect x="983" y="692" width="21" height="30" fill="#fff" stroke="#222" stroke-width="1.8"/>
<rect x="1017" y="712" width="20" height="10" fill="#f3c48f" stroke="#222" stroke-width="1.8"/>
<rect x="1157" y="688" width="20" height="34" fill="#fff" stroke="#222" stroke-width="1.8"/>
<rect x="1190" y="718" width="18" height="4" fill="#f3c48f" stroke="#222" stroke-width="1.8"/>
<path d="M993.5,692V679M990,679H997 M1167,688V680M1163,680H1171" stroke="#222" stroke-width="1.5"/>
<path d="M1027,712V700M1024,700H1030 M1199,718V695M1195,695H1203" stroke="#f03c2c" stroke-width="1.5"/>
<g fill="#111">
<circle cx="990" cy="688" r="2.8"/><circle cx="997" cy="690" r="2.8"/><circle cx="993" cy="694" r="2.8"/><circle cx="993" cy="699" r="2.8"/><circle cx="999" cy="686" r="2.8"/>
<circle cx="1167" cy="693" r="2.8"/>
</g>
<g fill="#f03c2c">
<circle cx="1027" cy="703" r="2.8"/><circle cx="1023" cy="709" r="2.8"/><circle cx="1031" cy="708" r="2.8"/><circle cx="1027" cy="714" r="2.8"/><circle cx="1023" cy="717" r="2.8"/>
<circle cx="1199" cy="700" r="2.8"/><circle cx="1199" cy="705" r="2.8"/><circle cx="1199" cy="710" r="2.8"/><circle cx="1199" cy="715" r="2.8"/>
</g>
<path d="M993,667V655H1026V692 M1166,662V653H1200V683" stroke="#444" stroke-width="1.8" fill="none"/>
<text x="1010" y="648" font-size="15" text-anchor="middle" textLength="66" lengthAdjust="spacingAndGlyphs">p=0.0003</text>
<text x="1182" y="646" font-size="15" text-anchor="middle" textLength="42" lengthAdjust="spacingAndGlyphs">p=0.07</text>
</svg>
</body></html>
